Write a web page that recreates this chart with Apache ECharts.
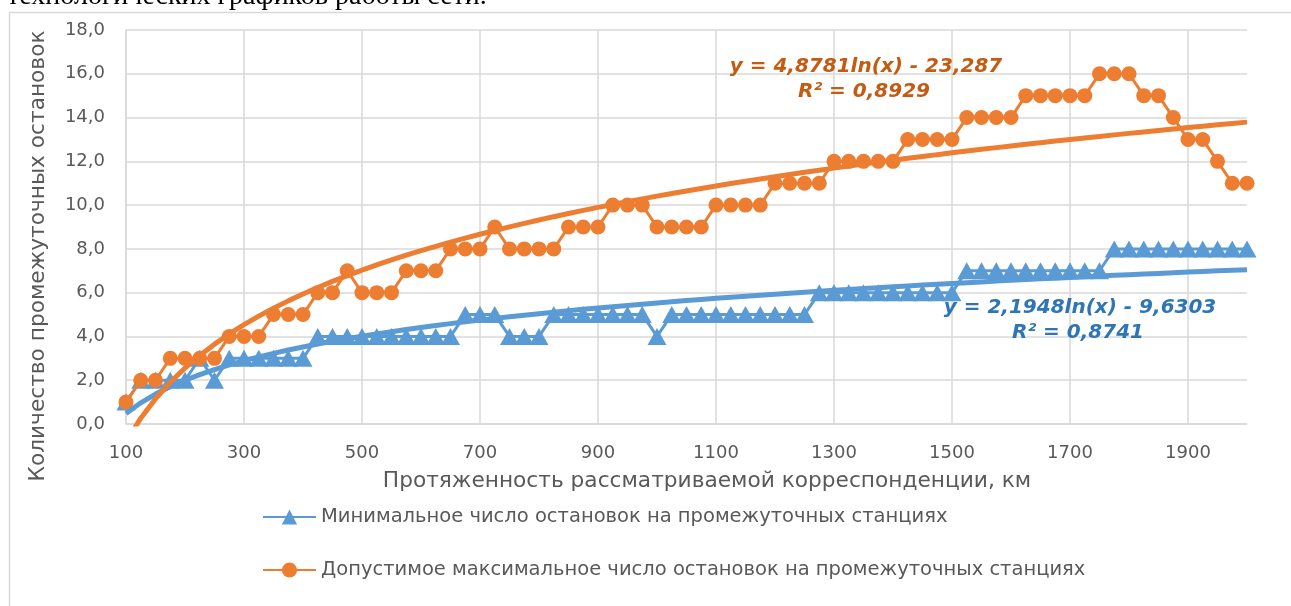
<!DOCTYPE html>
<html>
<head>
<meta charset="utf-8">
<script src="https://cdn.jsdelivr.net/npm/echarts@6/dist/echarts.min.js"></script>
<style>
html,body{margin:0;padding:0;background:#fff;}
#c{width:1291px;height:606px;}
</style>
</head>
<body>
<div id="c"></div>
<script>
// Протяженность, км
const distances = [100,125,150,175,200,225,250,275,300,325,350,375,400,425,450,475,500,525,550,575,600,625,650,675,700,725,750,775,800,825,850,875,900,925,950,975,1000,1025,1050,1075,1100,1125,1150,1175,1200,1225,1250,1275,1300,1325,1350,1375,1400,1425,1450,1475,1500,1525,1550,1575,1600,1625,1650,1675,1700,1725,1750,1775,1800,1825,1850,1875,1900,1925,1950,1975,2000];
// Минимальное число остановок
const minStops = [1,2,2,2,2,3,2,3,3,3,3,3,3,4,4,4,4,4,4,4,4,4,4,5,5,5,4,4,4,5,5,5,5,5,5,5,4,5,5,5,5,5,5,5,5,5,5,6,6,6,6,6,6,6,6,6,6,7,7,7,7,7,7,7,7,7,7,8,8,8,8,8,8,8,8,8,8];
// Допустимое максимальное число остановок
const maxStops = [1,2,2,3,3,3,3,4,4,4,5,5,5,6,6,7,6,6,6,7,7,7,8,8,8,9,8,8,8,8,9,9,9,10,10,10,9,9,9,9,10,10,10,10,11,11,11,11,12,12,12,12,12,13,13,13,13,14,14,14,14,15,15,15,15,15,16,16,16,15,15,14,13,13,12,11,11];
// Логарифмические линии тренда (коэффициенты с диаграммы)
const minTrend = {a: 2.1948, b: -9.6303, label: 'y = 2,1948ln(x) - 9,6303', r2: 'R² = 0,8741'};
const maxTrend = {a: 4.8781, b: -23.287, label: 'y = 4,8781ln(x) - 23,287', r2: 'R² = 0,8929'};
const yTicks = {min: 0, max: 18, step: 2};

const seriesMinName = 'Минимальное число остановок на промежуточных станциях';
const seriesMaxName = 'Допустимое максимальное число остановок на промежуточных станциях';
const xTitle = 'Протяженность рассматриваемой корреспонденции, км';
const yTitle = 'Количество промежуточных остановок';

const minTrendData = distances.map(x => minTrend.a * Math.log(x) + minTrend.b);
const maxTrendData = distances.map(x => maxTrend.a * Math.log(x) + maxTrend.b);

const BLUE = '#5B9BD5', ORANGE = '#ED7D31';
const FONT = '"DejaVu Sans", sans-serif';
const LBL_FONT = 'italic bold 20px "DejaVu Sans", sans-serif';

const chart = echarts.init(document.getElementById('c'), null, {renderer: 'canvas'});
chart.setOption({
  animation: false,
  backgroundColor: '#fff',
  grid: {left: 126, right: 44, top: 30, bottom: 182, containLabel: false},
  xAxis: {
    type: 'category',
    data: distances.map(String),
    boundaryGap: false,
    name: xTitle,
    nameLocation: 'middle',
    nameGap: 46,
    nameTextStyle: {fontFamily: FONT, fontSize: 21.7, color: '#595959', padding: [0, 0, 0, 41]},
    axisLine: {show: true, lineStyle: {color: '#d9d9d9', width: 1.5}},
    axisTick: {show: false},
    axisLabel: {interval: 7, fontFamily: FONT, fontSize: 18, color: '#595959', margin: 20},
    splitLine: {show: true, interval: 7, lineStyle: {color: '#d9d9d9', width: 1.5}}
  },
  yAxis: {
    type: 'value',
    min: yTicks.min, max: yTicks.max, interval: yTicks.step,
    axisLine: {show: true, lineStyle: {color: '#d9d9d9', width: 1.5}},
    axisTick: {show: false},
    axisLabel: {fontFamily: FONT, fontSize: 18, color: '#595959', margin: 21,
      formatter: v => v.toFixed(1).replace('.', ',')},
    splitLine: {show: true, lineStyle: {color: '#d9d9d9', width: 1.5}}
  },
  legend: {
    orient: 'vertical',
    left: 257, top: 502,
    itemGap: 33,
    itemWidth: 53, itemHeight: 19,
    data: [seriesMinName, seriesMaxName],
    textStyle: {fontFamily: FONT, fontSize: 19.5, color: '#595959'}
  },
  series: [
    {
      name: seriesMinName, type: 'line', data: minStops,
      symbol: 'triangle', symbolSize: [19, 17], showAllSymbol: true,
      itemStyle: {color: BLUE}, lineStyle: {color: BLUE, width: 3}, z: 2
    },
    {
      name: seriesMaxName, type: 'line', data: maxStops,
      symbol: 'circle', symbolSize: 15, showAllSymbol: true,
      itemStyle: {color: ORANGE}, lineStyle: {color: ORANGE, width: 3}, z: 3
    },
    {
      name: 'trendMin', type: 'line', data: minTrendData, symbol: 'none',
      lineStyle: {color: BLUE, width: 5}, clip: true, z: 4, silent: true
    },
    {
      name: 'trendMax', type: 'line', data: maxTrendData, symbol: 'none',
      lineStyle: {color: ORANGE, width: 5}, clip: true, z: 5, silent: true
    }
  ],
  graphic: [
    {type: 'rect', left: 7, top: 10, shape: {x: 0, y: 0, width: 1300, height: 610},
      style: {fill: 'none', stroke: '#d9d9d9', lineWidth: 1.5}, z: -10, silent: true},
    {type: 'text', x: 7, y: -17, style: {text: 'технологических графиков работы сети.',
      font: '28px "Liberation Serif", serif', fill: '#000', textVerticalAlign: 'top'}, silent: true},
    {type: 'text', x: 38, y: 256, rotation: Math.PI / 2, style: {text: yTitle,
      font: '21.7px "DejaVu Sans", sans-serif', fill: '#595959', textAlign: 'center', textVerticalAlign: 'middle'}, silent: true},
    {type: 'text', x: 866, y: 67, style: {text: maxTrend.label, font: LBL_FONT,
      fill: '#C55A11', textAlign: 'center', textVerticalAlign: 'middle'}, z: 100},
    {type: 'text', x: 864, y: 92, style: {text: maxTrend.r2, font: LBL_FONT,
      fill: '#C55A11', textAlign: 'center', textVerticalAlign: 'middle'}, z: 100},
    {type: 'text', x: 1080, y: 308, style: {text: minTrend.label, font: LBL_FONT,
      fill: '#2E75B6', textAlign: 'center', textVerticalAlign: 'middle'}, z: 100},
    {type: 'text', x: 1078, y: 333, style: {text: minTrend.r2, font: LBL_FONT,
      fill: '#2E75B6', textAlign: 'center', textVerticalAlign: 'middle'}, z: 100}
  ]
});
</script>
</body>
</html>
